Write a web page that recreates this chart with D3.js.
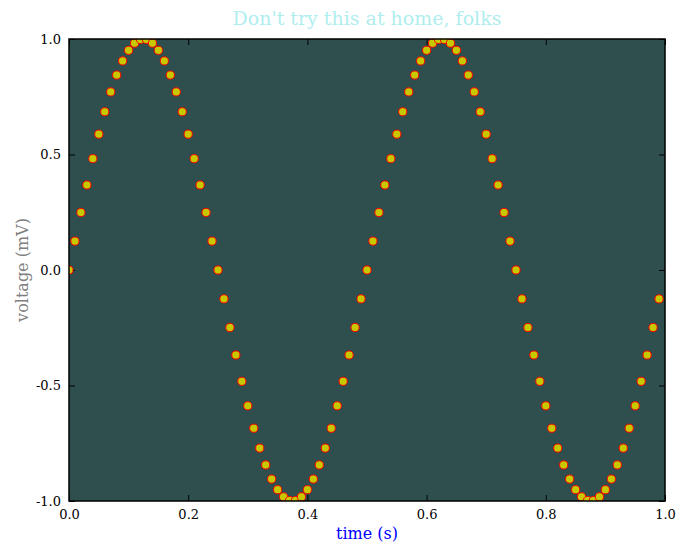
<!DOCTYPE html>
<html><head><meta charset="utf-8">
<script src="https://cdn.jsdelivr.net/npm/d3@7"></script>
<style>body{margin:0;background:#fff}svg{display:block}</style>
</head><body>
<script>
const times = [0.00,0.01,0.02,0.03,0.04,0.05,0.06,0.07,0.08,0.09,0.10,0.11,0.12,0.13,0.14,0.15,0.16,0.17,0.18,0.19,0.20,0.21,0.22,0.23,0.24,0.25,0.26,0.27,0.28,0.29,0.30,0.31,0.32,0.33,0.34,0.35,0.36,0.37,0.38,0.39,0.40,0.41,0.42,0.43,0.44,0.45,0.46,0.47,0.48,0.49,0.50,0.51,0.52,0.53,0.54,0.55,0.56,0.57,0.58,0.59,0.60,0.61,0.62,0.63,0.64,0.65,0.66,0.67,0.68,0.69,0.70,0.71,0.72,0.73,0.74,0.75,0.76,0.77,0.78,0.79,0.80,0.81,0.82,0.83,0.84,0.85,0.86,0.87,0.88,0.89,0.90,0.91,0.92,0.93,0.94,0.95,0.96,0.97,0.98,0.99];
const voltage = [
 0.000, 0.125, 0.249, 0.368, 0.482, 0.588, 0.685, 0.771, 0.844, 0.905,
 0.951, 0.982, 0.998, 0.998, 0.982, 0.951, 0.905, 0.844, 0.771, 0.685,
 0.588, 0.482, 0.368, 0.249, 0.125, 0.000,-0.125,-0.249,-0.368,-0.482,
-0.588,-0.685,-0.771,-0.844,-0.905,-0.951,-0.982,-0.998,-0.998,-0.982,
-0.951,-0.905,-0.844,-0.771,-0.685,-0.588,-0.482,-0.368,-0.249,-0.125,
 0.000, 0.125, 0.249, 0.368, 0.482, 0.588, 0.685, 0.771, 0.844, 0.905,
 0.951, 0.982, 0.998, 0.998, 0.982, 0.951, 0.905, 0.844, 0.771, 0.685,
 0.588, 0.482, 0.368, 0.249, 0.125, 0.000,-0.125,-0.249,-0.368,-0.482,
-0.588,-0.685,-0.771,-0.844,-0.905,-0.951,-0.982,-0.998,-0.998,-0.982,
-0.951,-0.905,-0.844,-0.771,-0.685,-0.588,-0.482,-0.368,-0.249,-0.125];
const xTicks = [0.0,0.2,0.4,0.6,0.8,1.0];
const yTicks = [-1.0,-0.5,0.0,0.5,1.0];
const titleText = "Don't try this at home, folks";
const xLabel = "time (s)";
const yLabel = "voltage (mV)";

const W=678,H=542;
const m={l:69,r:665,t:39,b:501};
const svg=d3.select("body").append("svg").attr("width",W).attr("height",H);
const x=d3.scaleLinear().domain([0,1]).range([m.l,m.r]);
const y=d3.scaleLinear().domain([-1,1]).range([m.b,m.t]);
const font="'DejaVu Serif', serif";

svg.append("rect").attr("x",m.l).attr("y",m.t).attr("width",m.r-m.l).attr("height",m.b-m.t).attr("fill","#2f4f4f");
svg.append("clipPath").attr("id","clip").append("rect").attr("x",m.l).attr("y",m.t).attr("width",m.r-m.l).attr("height",m.b-m.t);

const tickLen=6;
const fmt=v=>d3.format(".1f")(v).replace("\u2212","-");
const gb=svg.append("g").attr("transform",`translate(0,${m.b})`).call(d3.axisBottom(x).tickValues(xTicks).tickFormat(fmt).tickSizeInner(-tickLen).tickSizeOuter(0).tickPadding(9));
const gt=svg.append("g").attr("transform",`translate(0,${m.t})`).call(d3.axisTop(x).tickValues(xTicks).tickFormat("").tickSizeInner(-tickLen).tickSizeOuter(0));
const gl=svg.append("g").attr("transform",`translate(${m.l},0)`).call(d3.axisLeft(y).tickValues(yTicks).tickFormat(fmt).tickSizeInner(-tickLen).tickSizeOuter(0).tickPadding(8));
const gr=svg.append("g").attr("transform",`translate(${m.r},0)`).call(d3.axisRight(y).tickValues(yTicks).tickFormat("").tickSizeInner(-tickLen).tickSizeOuter(0));
[gb,gt,gl,gr].forEach(g=>{g.select(".domain").remove();g.selectAll("line").attr("stroke","#000");g.selectAll("text").attr("font-family",font).attr("font-size",13).attr("fill","#000");});

svg.append("g").attr("clip-path","url(#clip)").selectAll("circle").data(times).join("circle")
 .attr("cx",(d)=>x(d)).attr("cy",(d,i)=>y(voltage[i])).attr("r",4.1)
 .attr("fill","#c8c800").attr("stroke","#ff0000").attr("stroke-width",1);

svg.append("rect").attr("x",m.l).attr("y",m.t).attr("width",m.r-m.l).attr("height",m.b-m.t).attr("fill","none").attr("stroke","#000").attr("stroke-width",1.5);

svg.append("text").attr("x",(m.l+m.r)/2).attr("y",25).attr("text-anchor","middle").attr("font-family",font).attr("font-size",19).attr("fill","#afeeee").text(titleText);
svg.append("text").attr("x",(m.l+m.r)/2).attr("y",539).attr("text-anchor","middle").attr("font-family",font).attr("font-size",16).attr("fill","#0000ff").text(xLabel);
svg.append("text").attr("transform",`translate(28,${(m.t+m.b)/2}) rotate(-90)`).attr("text-anchor","middle").attr("font-family",font).attr("font-size",16).attr("fill","#808080").text(yLabel);
</script>
</body></html>
